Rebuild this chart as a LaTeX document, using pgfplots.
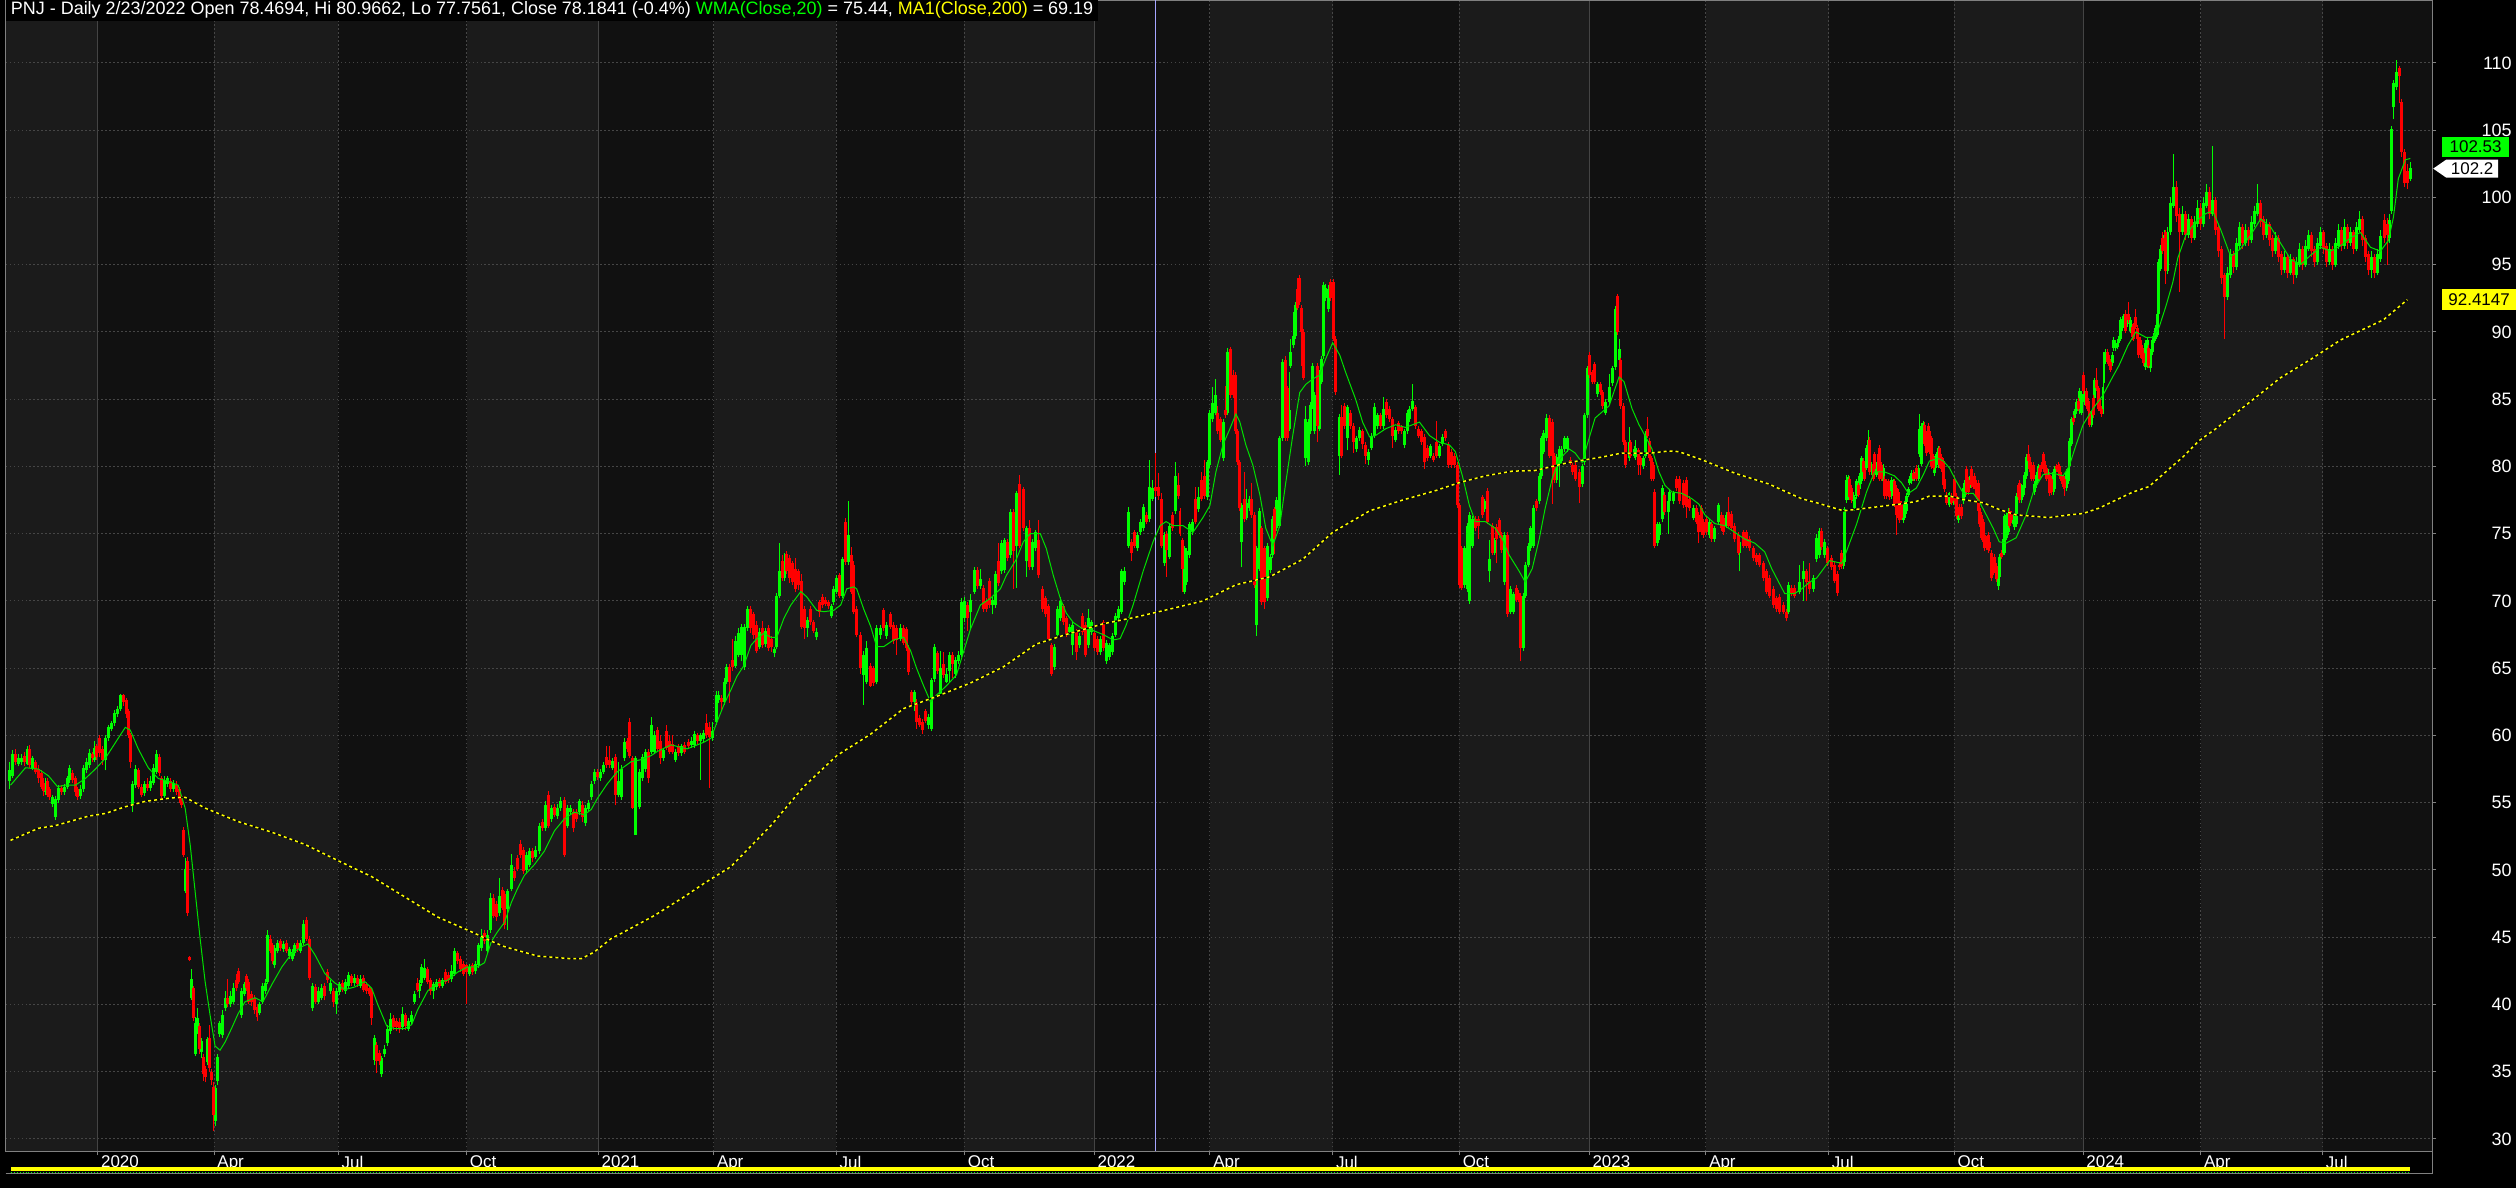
\documentclass[border=0pt]{standalone}
\usepackage{fontspec}
\setmainfont{Liberation Sans}
\usepackage{pgfplots}
\pgfplotsset{compat=1.18}
\usepackage{pgfplotstable}

\newlength\px
\setlength\px{0.5pt}

\definecolor{bgdark}{RGB}{17,17,17}
\definecolor{bglight}{RGB}{27,27,27}
\definecolor{gridgray}{RGB}{70,70,70}
\definecolor{yeargray}{RGB}{68,68,68}
\definecolor{framegray}{RGB}{128,128,128}
\definecolor{upgreen}{RGB}{0,255,0}
\definecolor{downred}{RGB}{255,0,0}
\definecolor{wmagreen}{RGB}{0,225,0}
\definecolor{mayellow}{RGB}{255,255,0}
\definecolor{cursorblue}{RGB}{165,165,255}

% daily candles, x = pixel column of the chart
\pgfplotstableread{
x o h l c
4 56.6 58.0 56.0 57.4
7 57.0 58.9 56.8 58.6
10 58.6 59.0 57.8 58.0
13 57.9 58.6 57.7 58.3
16 58.0 58.6 57.8 58.3
19 58.5 58.8 57.7 58.0
22 57.9 59.2 57.8 59.0
24 59.0 59.3 57.6 57.8
27 57.6 58.5 57.4 58.3
30 58.0 58.2 57.1 57.3
33 57.5 57.8 56.5 56.8
36 57.2 57.4 56.0 56.2
38 56.5 56.8 55.5 55.9
40 55.8 56.8 55.6 56.5
42 56.6 56.8 55.4 55.6
44 56.0 56.2 55.2 55.4
47 54.9 55.6 54.7 55.4
50 53.9 55.5 53.7 55.3
53 55.2 56.3 55.0 56.1
56 56.1 56.3 55.6 55.8
59 55.8 56.4 55.6 56.2
62 56.2 57.0 56.0 56.8
64 56.7 57.8 56.5 57.6
67 57.2 57.4 56.5 56.7
70 56.8 57.0 55.5 55.8
72 56.0 56.2 55.2 55.4
75 55.5 56.3 55.3 56.0
78 56.0 57.8 55.8 57.6
81 57.4 58.3 57.2 58.0
84 57.8 59.0 57.6 58.7
87 58.6 58.8 58.0 58.3
89 58.2 59.6 58.0 59.1
91 59.2 59.4 58.2 58.4
94 59.8 60.0 58.4 58.7
97 59.0 59.2 57.8 58.2
100 58.2 60.0 57.4 59.8
103 59.8 60.8 59.6 60.6
106 60.5 61.1 60.3 60.9
109 60.9 61.9 60.7 61.7
112 61.6 62.2 61.4 62.0
115 62.0 63.1 61.8 63.0
118 63.0 63.1 62.2 62.5
121 62.6 62.8 61.3 61.6
123 61.8 62.0 59.8 60.0
125 60.0 60.2 57.6 58.0
127 54.8 56.6 54.3 56.4
130 56.3 57.8 56.1 57.5
133 57.4 57.6 56.0 56.2
136 56.2 56.4 55.4 55.6
139 55.7 56.6 55.5 56.4
142 56.4 56.8 55.9 56.1
145 56.1 57.0 55.9 56.6
148 56.5 57.9 56.3 57.6
151 57.3 58.9 57.1 58.6
154 58.4 58.6 57.0 57.2
156 56.8 57.0 55.3 55.5
159 55.5 57.0 55.3 56.7
162 56.4 57.0 56.2 56.8
165 56.6 56.8 55.8 56.0
168 56.0 56.7 55.8 56.5
171 56.3 56.6 55.6 55.8
174 56.0 56.2 55.0 55.3
176 55.5 55.6 54.6 54.8
178 53.0 53.2 51.0 51.1
180 48.4 50.9 48.3 50.1
182 50.7 51.0 46.6 46.8
184 43.5 43.6 43.2 43.3
186 40.5 42.6 40.3 41.9
188 41.2 41.4 38.8 39.0
190 36.3 39.1 36.2 38.6
192 38.0 39.7 37.8 39.0
194 38.4 38.6 36.3 36.7
196 36.5 37.5 36.0 37.3
198 36.1 36.3 34.3 34.8
200 35.2 35.4 34.2 34.6
202 35.7 37.6 35.5 37.4
204 37.5 38.5 35.0 35.3
206 35.0 35.2 34.0 34.4
208 33.9 34.2 30.6 31.8
210 31.3 34.0 31.0 33.8
212 34.3 36.3 34.0 36.1
214 37.8 38.8 37.6 38.6
217 37.7 39.6 37.5 39.2
220 39.7 41.0 39.5 40.5
222 40.5 41.9 39.8 40.0
225 40.0 41.0 39.8 40.6
228 40.2 41.6 40.0 41.2
231 41.8 42.3 41.0 41.2
233 42.5 42.7 41.5 41.7
236 39.2 41.2 39.0 41.0
239 40.8 41.7 40.6 41.5
241 42.1 42.3 41.0 41.2
243 41.7 41.9 40.0 40.2
246 40.8 41.0 39.9 40.2
249 40.5 40.7 39.3 39.6
252 39.8 40.0 38.8 39.1
255 39.4 40.2 39.2 40.0
258 40.2 41.6 40.0 41.4
261 41.0 41.9 40.8 41.6
263 41.7 45.5 41.5 45.2
266 44.9 45.2 43.8 44.0
268 44.4 44.6 43.0 43.2
270 42.9 44.4 42.7 44.2
273 44.0 44.8 43.8 44.6
276 44.7 44.9 44.0 44.2
279 44.1 44.7 43.9 44.5
282 44.6 44.8 43.8 44.0
285 43.6 44.3 43.4 44.1
288 43.4 44.1 43.2 43.9
290 43.8 44.6 43.6 44.4
293 44.6 44.8 43.9 44.1
296 44.0 44.8 43.8 44.6
299 44.6 46.3 44.4 46.0
302 46.3 46.5 44.7 44.9
305 44.9 45.1 41.8 42.0
308 39.7 41.6 39.5 41.4
311 41.3 41.5 40.0 40.2
314 40.2 41.3 40.0 41.0
317 40.5 41.5 40.3 41.2
320 41.4 41.6 40.3 40.6
323 42.4 42.6 41.6 41.8
326 41.0 41.8 40.8 41.6
329 41.0 41.2 39.8 40.2
332 40.0 41.2 39.3 41.0
335 40.9 41.7 40.7 41.5
338 41.6 41.8 40.9 41.1
341 41.0 41.9 40.8 41.7
344 41.4 42.4 41.2 42.2
347 42.1 42.3 41.4 41.6
350 41.6 42.3 41.4 42.0
353 42.0 42.2 41.3 41.5
356 41.4 42.2 41.2 41.9
359 42.0 42.2 40.9 41.1
362 41.5 41.7 40.8 41.0
365 41.2 41.4 40.6 40.8
367 41.0 41.2 38.5 39.0
370 35.9 37.7 35.5 37.5
372 37.0 37.2 34.9 35.8
375 36.4 36.6 35.5 35.8
377 34.8 36.2 34.6 36.0
380 36.3 37.0 36.1 36.7
383 37.1 38.5 36.9 38.2
386 38.0 39.4 37.8 38.9
389 39.0 39.2 38.1 38.3
392 38.8 39.0 38.0 38.3
395 38.7 39.0 37.9 38.2
398 38.3 39.8 38.1 39.3
401 39.2 39.4 38.1 38.4
404 38.2 39.0 38.0 38.8
407 38.7 39.5 38.5 39.2
410 40.2 41.0 40.0 40.8
413 41.6 42.0 40.9 41.1
415 41.0 41.8 40.5 41.5
417 41.6 43.0 41.4 42.8
420 42.0 43.4 41.8 42.7
423 42.6 42.8 41.5 41.7
426 41.8 42.0 40.7 41.0
429 41.0 41.7 40.4 41.5
432 41.3 41.9 41.1 41.7
435 41.8 42.0 41.2 41.4
438 41.4 42.0 41.2 41.8
441 42.4 42.6 41.5 41.7
444 42.2 42.4 41.6 41.8
447 41.9 42.9 41.7 42.5
450 42.3 44.2 42.1 44.0
453 43.8 44.0 43.0 43.2
456 43.4 43.6 42.4 42.6
459 43.0 43.2 42.1 42.3
462 42.9 43.0 40.0 42.4
465 42.3 43.0 42.1 42.8
468 42.9 43.1 42.2 42.4
471 42.5 43.2 42.3 43.0
474 42.9 44.6 42.7 44.4
477 44.2 45.6 44.0 45.2
480 45.3 45.5 44.5 44.7
483 44.0 45.5 43.8 45.2
486 45.5 48.3 45.3 47.9
489 47.9 48.2 46.4 46.6
492 47.5 47.7 46.2 46.5
495 46.8 49.4 46.6 48.1
498 48.5 48.7 47.0 47.2
500 48.2 48.4 45.6 45.9
503 47.1 48.6 45.5 48.4
507 48.6 51.2 48.4 50.4
510 49.9 50.2 49.2 49.4
513 50.9 51.1 49.9 50.1
516 51.9 52.2 50.9 51.1
519 51.5 51.7 49.7 49.9
522 50.0 51.3 49.8 51.1
525 50.4 51.6 50.2 51.4
528 51.4 51.6 50.6 50.9
531 51.0 51.8 50.8 51.5
535 51.4 53.5 51.2 53.3
538 53.6 53.8 52.9 53.1
541 53.1 55.1 52.9 54.8
544 55.6 55.9 53.1 53.3
547 53.8 54.8 53.6 54.6
550 54.7 54.9 53.9 54.1
553 54.0 54.9 53.8 54.6
556 54.6 55.4 54.4 55.1
560 55.2 55.4 51.0 51.1
563 53.3 54.8 53.1 54.6
566 54.3 54.8 54.1 54.6
569 54.3 54.5 52.8 53.1
572 54.3 54.5 53.6 53.8
575 54.3 55.3 54.1 55.1
578 54.8 55.1 53.6 53.9
581 53.5 54.8 53.3 54.6
584 54.5 55.2 54.3 55.0
587 55.4 56.6 55.2 56.4
590 56.6 57.5 56.4 57.3
593 57.3 57.5 56.7 56.9
596 56.8 57.5 56.6 57.3
599 57.3 58.0 57.1 57.8
602 58.4 59.2 57.6 57.8
605 58.2 59.2 57.6 57.8
608 57.6 58.3 57.4 58.1
611 58.4 58.6 54.8 55.6
614 55.6 58.0 55.4 56.6
617 55.4 57.8 55.2 57.5
620 58.3 59.8 58.1 59.5
623 59.6 59.8 58.8 59.0
625 61.0 61.3 58.3 58.5
628 58.3 58.5 54.5 54.6
631 52.6 58.5 52.6 58.3
635 54.7 57.5 54.5 57.3
638 56.8 58.6 56.6 58.4
641 57.5 59.0 57.3 58.8
644 58.8 59.0 56.5 56.8
647 58.8 61.4 58.6 60.8
650 58.8 60.3 58.6 60.0
653 60.4 60.6 58.8 59.0
656 59.6 60.0 57.9 58.3
659 58.3 59.1 58.1 58.9
662 60.3 60.8 58.9 59.1
665 59.6 60.0 58.6 58.8
668 59.4 60.0 58.6 58.8
671 58.2 59.0 58.0 58.8
674 59.2 59.4 58.5 58.7
677 58.7 59.4 58.5 59.2
680 59.3 59.5 58.6 58.8
684 59.5 59.7 59.0 59.2
687 59.3 59.9 59.1 59.6
690 59.3 60.3 59.1 60.1
693 60.0 60.2 59.4 59.6
696 59.6 60.2 56.7 60.0
699 59.7 60.4 59.5 60.2
702 60.9 61.6 59.8 60.0
705 60.6 61.0 56.1 59.9
708 59.8 61.0 59.6 60.3
712 61.0 63.3 60.8 63.0
715 62.6 63.3 62.4 63.0
718 62.8 63.0 61.8 62.5
721 62.5 64.3 62.3 64.0
723 64.0 65.3 63.8 65.1
726 65.1 65.3 62.4 64.0
729 65.6 67.2 64.8 65.1
732 65.2 67.4 65.0 67.0
735 66.0 68.0 65.8 67.6
738 66.0 68.3 65.5 68.1
741 65.1 68.3 64.9 68.1
744 68.0 69.6 67.8 69.4
747 69.4 69.6 67.6 68.0
750 69.0 69.2 67.2 67.5
753 68.2 68.5 66.1 66.3
756 66.6 68.0 66.4 67.7
759 68.0 68.5 66.5 66.7
762 66.8 68.0 66.6 67.8
765 68.0 68.2 66.3 66.5
768 67.2 67.4 66.2 66.6
771 66.1 66.6 65.8 66.4
773 66.6 70.6 66.4 70.4
776 70.4 74.3 70.2 72.2
779 73.0 73.4 71.5 71.7
781 71.7 73.6 71.5 72.2
783 73.5 73.7 72.0 72.2
786 73.2 73.4 71.3 71.7
789 72.8 73.0 71.2 71.4
792 72.4 73.2 70.7 70.9
795 72.2 72.4 70.8 71.2
798 71.5 72.0 67.9 68.1
801 69.4 69.6 67.2 68.0
804 68.0 68.8 67.3 68.6
807 69.4 69.6 68.2 68.4
810 68.4 68.6 67.6 67.8
813 67.3 68.0 67.1 67.7
816 69.9 70.1 68.8 69.2
819 70.3 70.5 69.5 69.7
822 70.1 70.3 69.6 69.8
825 69.9 70.1 69.4 69.6
828 68.9 69.8 68.7 69.6
830 69.9 71.1 69.7 70.9
833 70.7 71.9 70.5 71.7
836 71.9 72.1 70.2 70.4
839 70.4 73.3 70.2 73.1
842 75.9 76.2 72.7 72.9
845 72.9 77.4 72.7 74.9
848 73.4 74.0 70.5 70.7
850 72.7 73.0 69.0 69.2
853 69.4 69.6 67.3 67.5
857 67.5 67.7 64.6 65.0
860 64.5 66.3 62.3 66.0
863 64.0 67.0 63.8 66.5
867 65.2 65.4 63.6 63.7
870 65.0 65.2 63.7 63.9
873 64.0 68.2 63.8 68.0
877 67.5 68.2 67.2 68.0
880 69.3 69.5 67.8 68.0
883 67.4 68.4 67.2 68.2
887 69.0 69.2 67.9 68.1
890 68.2 68.4 66.8 67.0
893 68.0 68.2 66.0 67.1
897 67.2 68.3 67.0 68.0
900 68.0 68.2 66.7 66.9
903 67.9 68.1 66.3 66.5
905 66.5 66.7 64.5 64.7
908 63.2 63.4 62.3 62.5
911 62.5 63.4 61.8 63.2
913 62.5 62.7 60.5 61.0
916 61.3 61.5 60.6 60.8
919 61.0 61.2 60.1 60.4
922 61.8 62.0 60.9 61.1
925 60.8 61.6 60.5 61.4
928 60.5 64.3 60.3 64.1
931 64.2 66.8 64.0 66.6
934 66.1 66.3 64.6 64.8
937 63.1 66.3 63.0 65.0
940 65.3 66.2 64.3 64.5
943 64.0 65.0 63.9 64.6
946 64.8 66.2 64.0 66.0
949 66.0 66.2 64.3 65.3
952 64.6 65.8 64.3 65.6
955 65.5 66.3 65.3 66.0
958 66.0 70.2 65.8 69.9
961 68.7 70.3 68.4 70.0
964 69.7 69.9 67.8 68.7
967 69.2 70.5 67.9 70.1
971 70.7 72.5 70.5 72.3
974 72.3 72.5 70.9 71.1
977 71.1 72.4 70.9 71.6
980 71.0 71.2 69.2 69.4
983 70.0 70.2 69.2 69.4
986 71.5 71.7 69.5 69.7
989 69.7 70.3 69.0 70.1
992 69.7 72.2 69.5 72.0
995 73.0 74.3 71.1 71.3
998 72.2 74.5 72.0 74.3
1001 72.3 74.7 72.1 74.5
1004 74.4 74.6 73.0 73.2
1007 73.4 76.8 73.2 76.6
1010 76.6 76.8 70.9 73.7
1013 74.1 78.2 71.0 78.0
1016 78.7 79.4 73.9 74.1
1020 78.3 78.5 75.2 75.4
1023 73.0 75.6 71.8 75.4
1026 75.4 76.0 72.3 72.5
1029 72.5 74.6 72.3 74.4
1032 73.9 75.3 73.7 75.1
1035 74.5 76.0 71.7 71.9
1039 70.9 71.1 69.2 69.4
1042 70.2 70.4 68.8 69.0
1045 69.6 69.8 67.0 67.2
1048 66.7 66.9 64.4 64.6
1051 65.1 66.8 64.9 66.6
1054 67.5 69.6 67.3 69.4
1057 68.7 70.3 68.5 70.0
1060 69.6 69.8 68.2 68.4
1063 68.7 68.9 67.3 67.5
1066 67.7 68.3 67.5 68.1
1069 66.7 68.4 66.0 68.2
1073 67.7 67.9 65.6 66.2
1076 66.7 67.6 66.5 67.4
1079 68.9 69.1 67.5 67.7
1082 68.2 68.4 65.8 66.0
1085 66.7 69.4 66.5 68.7
1088 67.7 68.6 67.5 68.4
1091 67.6 67.8 66.3 66.5
1094 67.2 67.4 66.0 66.2
1097 66.2 67.4 66.0 67.2
1100 68.4 68.6 66.3 66.5
1103 65.5 67.1 65.3 66.9
1106 65.8 66.9 65.6 66.7
1109 66.2 67.6 66.0 67.4
1112 67.5 69.1 67.3 68.9
1115 68.7 69.6 68.5 69.4
1118 69.2 72.4 69.0 72.2
1121 71.4 72.5 71.2 72.2
1125 74.1 77.0 73.9 76.6
1128 74.4 74.6 73.0 73.6
1131 75.1 75.3 73.9 74.1
1134 73.9 75.1 73.7 74.9
1137 75.1 76.1 74.9 75.9
1140 75.4 77.2 75.2 77.0
1143 76.4 76.6 75.7 75.9
1146 76.1 80.5 75.9 78.5
1149 77.6 79.0 77.4 78.4
1152 78.4694 80.9662 77.7561 78.1841
1155 78.5 79.5 77.5 77.8
1158 77.6 78.0 73.9 74.1
1161 72.8 75.1 72.6 74.9
1163 75.0 75.2 71.8 73.8
1166 73.3 75.8 73.1 75.6
1169 76.4 76.6 75.2 75.4
1172 76.7 80.3 76.5 79.3
1175 78.6 79.5 77.6 77.8
1177 76.7 76.9 74.8 75.0
1180 74.5 74.7 70.7 72.4
1182 70.7 74.1 70.5 73.9
1184 71.4 73.9 71.2 73.7
1187 73.4 75.9 73.2 75.7
1190 75.1 76.1 74.9 75.9
1193 77.6 78.5 75.7 75.9
1196 76.8 78.5 76.6 77.7
1199 79.0 79.6 77.4 77.6
1202 79.3 80.5 77.6 77.8
1205 77.7 80.5 77.5 80.3
1207 80.1 84.2 79.9 84.0
1210 83.5 85.9 83.3 84.7
1213 84.0 86.5 83.8 85.3
1215 84.0 84.5 82.4 82.6
1218 83.5 83.7 81.8 82.0
1221 80.6 83.5 80.4 83.3
1223 84.2 86.0 83.6 83.8
1225 84.0 88.8 83.8 88.5
1228 88.7 88.9 85.1 85.3
1231 86.8 87.2 85.1 85.3
1233 86.8 87.0 82.4 82.6
1235 82.6 82.8 80.1 80.3
1237 80.3 80.5 76.7 76.9
1239 74.4 77.3 72.5 77.1
1242 77.6 79.6 75.9 76.1
1244 76.2 78.3 76.0 77.3
1247 76.9 77.8 76.7 77.6
1249 77.6 78.8 76.2 76.4
1252 76.4 76.6 71.0 71.2
1254 68.2 74.1 67.4 73.9
1257 72.4 76.9 72.2 76.7
1259 75.4 75.6 69.7 69.9
1262 73.9 74.1 69.4 69.9
1265 70.2 74.3 70.0 74.1
1268 72.3 73.5 72.1 73.3
1270 73.4 76.3 73.2 76.1
1272 76.8 77.0 73.5 74.6
1274 75.4 77.7 75.2 77.5
1277 75.6 82.3 75.4 82.1
1280 82.1 88.0 81.9 87.8
1283 87.9 88.2 81.9 82.1
1285 85.8 86.0 81.9 82.1
1287 82.8 87.0 82.6 84.2
1288 87.5 89.5 87.3 88.5
1291 89.0 91.5 88.8 89.7
1293 89.7 92.2 89.5 92.0
1295 93.2 94.0 91.6 91.8
1297 94.0 94.2 92.0 92.2
1299 91.8 92.0 87.5 90.0
1301 90.0 90.2 86.4 86.6
1303 80.6 84.5 80.0 83.5
1306 80.3 83.5 80.1 83.3
1308 82.6 84.8 82.4 84.6
1310 84.5 87.7 84.3 87.5
1312 82.6 85.5 82.4 85.3
1315 87.5 87.7 81.8 83.0
1317 82.8 87.2 82.6 87.0
1319 86.3 88.2 86.1 88.0
1321 88.2 93.7 88.0 93.5
1323 92.5 93.6 92.3 93.3
1326 91.7 93.5 91.5 93.2
1328 93.7 93.9 92.3 92.5
1331 93.7 93.9 89.3 89.5
1333 89.5 89.7 85.3 85.5
1337 80.8 83.9 79.4 83.7
1339 83.7 84.6 80.6 80.8
1342 84.5 84.7 82.8 83.0
1345 82.1 84.6 81.2 84.4
1348 84.0 84.2 82.8 83.0
1351 83.0 83.2 81.0 81.8
1354 81.3 82.3 81.1 82.1
1357 82.1 82.9 81.9 82.7
1360 82.6 82.8 81.3 81.7
1363 81.6 81.8 80.2 80.8
1366 80.5 81.3 80.1 81.1
1369 81.4 82.5 81.2 82.3
1372 82.3 84.7 82.1 84.4
1375 83.0 84.0 82.8 83.8
1378 83.8 84.0 82.8 83.0
1381 83.0 85.2 82.8 84.3
1384 84.8 85.0 83.6 83.8
1387 84.3 84.5 83.3 83.5
1390 83.5 83.7 81.4 82.3
1393 82.0 82.9 81.8 82.7
1396 83.2 83.4 82.4 82.6
1399 82.9 83.1 82.4 82.6
1402 81.6 82.8 81.4 82.6
1405 82.6 84.2 82.4 84.0
1407 83.5 84.5 83.3 84.3
1410 84.3 86.1 84.1 84.9
1413 84.4 84.6 82.8 83.0
1416 82.8 83.0 82.1 82.3
1419 82.6 82.8 81.6 81.8
1422 82.2 82.4 79.8 80.3
1425 81.4 81.6 80.4 80.6
1428 80.8 81.7 80.6 81.5
1431 80.8 81.0 80.3 80.5
1434 81.8 83.4 80.6 80.8
1437 80.8 81.7 80.6 81.5
1440 81.7 82.4 81.5 82.2
1443 82.6 82.8 81.9 82.1
1446 81.6 81.8 79.9 80.1
1449 81.1 81.3 79.9 80.1
1452 80.8 81.0 79.9 80.1
1455 80.1 80.3 76.9 77.1
1457 77.1 77.3 71.0 71.2
1459 73.9 74.1 70.8 71.0
1462 71.2 74.1 71.0 73.9
1465 70.9 75.8 70.7 75.6
1467 70.0 76.6 69.8 76.4
1470 74.1 76.3 73.9 76.1
1473 76.1 76.3 75.2 75.4
1476 76.1 76.3 74.6 75.6
1480 77.7 77.9 76.2 76.4
1482 76.8 77.6 76.6 77.4
1485 78.2 78.4 75.7 75.9
1487 72.2 74.5 71.4 73.1
1490 75.6 75.8 73.4 73.6
1492 73.6 74.7 73.4 74.5
1494 75.5 75.7 72.8 74.6
1497 76.0 76.2 74.7 74.9
1499 74.9 75.1 73.6 73.8
1502 71.4 75.1 71.2 74.9
1505 74.9 75.1 68.8 69.0
1508 69.2 71.1 69.0 70.9
1511 69.2 70.7 69.0 70.5
1514 71.0 71.2 69.9 70.1
1516 70.6 70.8 69.9 70.1
1518 70.4 70.6 65.5 66.5
1521 66.5 70.6 66.3 70.4
1523 70.4 72.9 70.2 72.7
1526 72.7 74.3 72.5 74.1
1528 73.9 75.6 73.7 75.4
1531 74.1 77.1 73.9 76.9
1534 77.4 77.6 76.7 76.9
1537 77.4 79.5 77.2 79.3
1539 79.3 82.3 79.1 82.1
1541 81.1 82.7 80.9 82.5
1544 82.1 83.9 81.9 83.6
1547 83.6 83.8 80.6 80.8
1550 83.3 83.5 77.2 80.8
1552 80.8 81.0 78.8 79.0
1554 79.0 80.9 78.8 80.7
1557 80.1 81.5 78.5 81.3
1559 80.4 81.5 80.2 81.3
1562 81.3 82.3 81.1 82.1
1565 81.3 82.3 81.1 82.1
1568 80.5 80.7 80.1 80.3
1570 80.1 80.3 79.4 79.6
1573 80.1 80.3 78.9 79.1
1577 79.6 79.8 77.3 78.5
1580 78.7 80.2 78.5 80.0
1582 80.3 84.0 80.1 83.8
1585 83.8 87.5 83.6 87.3
1587 88.3 88.5 86.6 86.8
1590 87.0 87.2 86.1 86.3
1592 87.6 87.8 86.1 86.3
1595 85.4 86.3 85.2 86.1
1598 86.1 86.3 85.3 85.5
1600 85.5 85.7 84.3 84.5
1603 84.0 85.0 83.8 84.8
1607 84.8 86.9 84.6 85.9
1610 86.2 87.5 86.0 87.3
1613 87.4 91.9 87.2 91.7
1615 92.7 92.8 89.8 90.0
1617 87.9 89.5 87.7 88.7
1618 87.9 88.1 84.3 84.5
1621 84.5 84.7 81.6 81.8
1623 81.8 82.0 79.9 80.1
1627 80.6 82.9 80.4 81.8
1628 81.8 82.0 80.6 80.8
1632 80.8 81.5 80.6 81.3
1633 80.7 82.0 80.5 81.4
1636 81.2 81.4 79.4 80.1
1638 80.6 80.8 79.4 80.1
1642 80.0 80.8 79.8 80.6
1644 80.8 82.6 80.6 82.4
1646 82.8 83.7 82.1 82.3
1648 81.9 82.1 80.4 80.6
1650 80.6 80.8 78.9 79.1
1652 80.1 80.3 78.9 79.1
1653 78.1 78.3 73.9 74.1
1656 74.3 75.9 74.1 75.7
1658 74.9 75.9 74.5 75.7
1661 76.1 78.6 75.9 78.4
1663 77.9 78.1 76.4 76.6
1667 76.6 77.6 75.0 77.4
1668 77.4 78.3 77.2 78.1
1672 77.4 78.2 77.2 78.0
1675 79.1 79.3 78.2 78.4
1678 79.1 79.3 77.2 77.4
1682 78.8 79.0 76.9 77.1
1685 79.0 79.2 76.2 77.0
1688 77.6 77.8 76.7 76.9
1692 76.2 77.1 76.0 76.9
1695 76.9 77.1 75.7 75.9
1697 76.4 76.6 74.3 75.1
1700 76.9 77.1 74.9 75.1
1702 75.9 76.1 74.7 74.9
1705 76.1 76.3 74.9 75.1
1708 74.9 76.1 74.7 75.9
1710 75.7 75.9 74.4 74.6
1713 74.6 75.6 74.4 75.4
1717 75.9 77.3 75.7 77.1
1720 76.4 76.6 75.2 75.4
1722 76.2 76.4 74.9 75.1
1725 75.6 76.6 75.4 76.4
1727 76.6 77.7 75.4 75.6
1730 76.5 76.7 75.2 75.4
1733 75.6 75.8 74.4 74.6
1737 74.9 75.1 73.4 73.6
1738 73.6 74.6 72.2 74.4
1742 75.1 75.3 73.9 74.1
1745 75.1 75.3 73.9 74.1
1748 74.6 74.8 73.7 73.9
1752 73.9 74.1 73.0 73.2
1755 73.4 73.6 72.7 72.9
1758 73.4 73.6 72.5 72.7
1762 72.8 73.0 71.5 71.7
1765 72.2 72.4 70.5 70.7
1768 71.7 71.9 70.2 70.4
1772 70.9 71.1 69.5 69.7
1775 70.2 70.4 69.2 69.4
1778 70.3 70.5 69.0 69.2
1782 69.7 69.9 69.0 69.2
1785 69.2 69.4 68.5 68.7
1787 69.2 71.4 69.0 71.2
1790 71.0 71.2 70.4 70.6
1793 71.0 71.2 70.2 70.4
1798 70.7 72.7 70.5 71.4
1802 71.6 73.0 70.0 72.2
1805 72.2 72.4 70.0 71.4
1808 71.5 72.8 70.5 70.9
1812 70.9 71.9 70.7 71.7
1815 73.1 75.0 72.9 74.7
1818 73.4 75.4 73.2 75.2
1820 75.2 75.4 73.8 74.0
1823 73.4 74.6 73.2 74.4
1826 73.9 74.1 72.6 72.8
1830 73.2 73.4 72.3 72.5
1833 72.7 72.9 71.3 71.5
1836 72.0 72.2 70.4 70.6
1838 72.7 72.9 72.3 72.5
1840 73.6 73.8 72.4 72.6
1842 72.6 73.4 72.4 73.2
1843 72.9 77.0 72.7 76.8
1845 77.5 79.4 77.3 79.0
1847 77.7 79.4 77.5 79.2
1848 79.1 79.3 77.5 77.7
1850 78.4 78.6 77.3 77.5
1852 77.4 78.1 77.2 77.9
1853 76.9 77.9 76.7 77.7
1855 77.8 79.1 77.6 78.9
1857 78.6 78.8 77.7 77.9
1858 78.3 79.5 78.1 79.3
1860 78.9 80.8 78.7 80.6
1862 80.4 80.6 79.4 79.6
1863 79.9 80.1 78.9 79.1
1865 79.9 81.6 79.7 81.4
1867 80.3 82.7 80.1 82.0
1868 82.0 82.2 79.4 79.6
1870 79.6 80.3 79.4 80.1
1872 80.2 80.4 78.9 79.1
1873 80.9 81.1 79.6 79.8
1875 79.4 80.3 79.2 80.1
1877 80.9 81.1 79.4 79.6
1878 81.4 81.6 78.9 79.1
1880 80.1 80.3 78.9 79.1
1882 78.9 80.2 78.7 79.9
1883 79.1 79.3 77.6 77.8
1885 78.9 79.1 77.6 77.8
1887 78.9 79.1 77.7 77.9
1888 78.2 78.4 77.5 77.7
1890 77.8 79.2 77.6 79.0
1892 77.8 79.1 77.6 78.9
1893 78.9 79.1 77.0 77.2
1895 78.4 78.6 74.9 76.4
1897 78.1 78.3 76.0 76.2
1898 77.4 77.6 75.8 76.05
1900 77.2 77.4 76.0 76.2
1902 76.0 77.2 75.8 77.0
1903 76.2 77.4 76.0 77.2
1905 76.7 78.0 76.5 77.8
1907 77.9 78.5 77.7 78.3
1908 78.8 79.3 78.6 79.1
1910 78.9 79.7 78.7 79.5
1912 79.5 79.7 78.9 79.1
1913 79.1 79.6 78.9 79.4
1915 79.9 80.1 78.9 79.1
1917 79.1 80.1 78.9 79.9
1918 80.9 83.9 80.7 82.8
1920 80.2 83.2 80.0 83.0
1922 82.2 83.4 82.0 83.2
1923 83.1 83.3 81.5 81.7
1925 82.4 82.6 80.8 81.0
1927 83.0 83.2 81.8 82.0
1928 82.6 82.8 80.9 81.1
1930 82.1 82.3 79.8 80.0
1932 80.7 80.9 79.7 79.9
1933 79.5 80.8 79.3 80.6
1935 80.1 81.1 79.9 80.9
1937 80.1 81.5 79.9 81.4
1938 81.4 81.5 79.9 80.1
1940 80.7 80.9 79.6 79.8
1942 80.4 80.6 78.4 78.6
1943 79.1 79.3 78.1 78.3
1945 77.9 78.1 77.1 77.3
1947 77.3 78.0 77.1 77.8
1948 77.2 78.1 77.0 77.9
1950 77.8 78.0 77.1 77.3
1952 77.3 78.0 77.1 77.8
1953 79.1 79.3 77.2 77.4
1955 77.8 78.0 76.1 76.3
1957 76.0 76.6 75.8 76.4
1958 77.0 77.2 76.2 76.4
1960 77.0 77.2 76.1 76.3
1962 77.4 78.6 77.2 78.4
1963 77.7 79.0 77.5 78.8
1965 79.8 80.0 77.9 78.1
1967 79.0 79.2 77.9 78.1
1968 78.4 79.3 78.2 79.1
1970 79.8 80.0 78.4 78.6
1972 79.1 79.3 78.3 78.5
1973 79.3 79.5 78.3 78.5
1975 78.8 79.0 77.6 77.8
1977 78.8 79.0 76.5 76.7
1978 76.9 77.1 75.5 75.7
1980 76.4 76.6 74.5 74.7
1982 75.9 76.1 74.2 74.4
1983 74.9 75.1 73.7 73.9
1985 74.6 74.8 73.8 74.0
1987 74.9 75.1 73.6 73.8
1988 74.4 74.6 73.7 73.9
1990 73.6 73.8 71.5 71.7
1992 73.1 73.3 71.9 72.1
1993 73.3 73.5 72.4 72.6
1995 72.6 72.8 71.4 71.6
1997 71.1 71.9 70.8 71.7
1998 71.8 73.5 71.6 73.3
2000 73.6 73.8 73.1 73.3
2002 73.6 74.8 73.4 74.6
2003 73.6 76.5 73.4 76.3
2005 74.7 76.6 74.5 76.4
2007 75.1 76.9 74.9 76.7
2008 76.7 76.9 75.4 75.6
2010 76.5 76.7 75.8 76.0
2012 75.7 76.5 75.5 76.3
2013 75.5 76.1 75.3 75.9
2015 75.7 78.0 75.5 77.8
2017 78.6 78.8 77.5 77.7
2018 78.8 79.0 77.3 77.5
2020 77.5 78.7 77.3 78.5
2022 77.9 78.8 77.7 78.6
2023 78.4 79.6 78.2 79.4
2025 79.3 80.9 79.1 80.7
2027 80.9 81.6 80.2 80.4
2028 80.7 80.9 79.6 79.8
2030 80.1 80.3 78.9 79.1
2032 80.1 80.3 78.9 79.1
2033 78.1 78.9 77.9 78.7
2035 78.6 79.6 78.4 79.4
2037 79.1 80.2 78.9 80.0
2038 79.9 80.1 78.9 79.1
2040 80.1 80.3 79.6 79.8
2042 80.9 81.1 79.6 79.8
2043 80.4 80.6 79.4 79.6
2045 79.9 80.1 78.9 79.1
2047 79.1 79.8 78.9 79.6
2048 79.4 79.6 77.8 78.0
2050 79.1 79.3 77.9 78.1
2052 78.1 79.8 77.9 79.6
2053 78.3 80.0 78.1 79.8
2055 80.0 80.2 79.6 79.8
2057 80.1 80.3 79.4 79.6
2058 80.0 80.2 79.1 79.3
2060 79.4 79.6 78.7 78.9
2062 79.1 79.3 78.3 78.5
2063 79.1 79.3 77.8 78.4
2065 78.4 79.8 78.2 79.6
2067 78.9 80.1 78.7 79.9
2068 80.0 82.1 79.8 81.9
2070 81.7 83.7 81.5 83.5
2072 83.6 83.8 83.1 83.3
2073 83.6 84.3 83.4 84.1
2075 84.1 85.0 83.9 84.8
2077 84.9 85.1 84.1 84.3
2078 84.1 85.8 83.9 85.6
2080 84.0 85.6 83.8 85.4
2082 86.8 87.0 85.4 85.6
2083 84.8 85.8 84.6 85.6
2085 85.6 85.8 84.3 84.5
2087 84.9 85.1 83.9 84.1
2088 84.1 84.3 82.9 83.1
2090 83.1 84.1 82.9 83.9
2092 85.1 85.3 83.6 83.8
2093 85.1 86.6 84.9 86.4
2095 86.4 87.3 85.6 85.8
2097 85.8 86.0 84.1 84.3
2098 85.1 85.3 84.1 84.3
2100 84.3 84.5 83.7 83.9
2102 84.1 86.1 83.9 85.9
2103 86.2 88.5 86.0 88.3
2105 87.8 88.7 87.6 88.5
2107 88.5 88.7 87.6 87.8
2108 88.3 88.5 87.5 87.7
2110 87.8 88.0 87.0 87.2
2112 87.7 88.5 87.5 88.3
2113 88.8 89.6 88.6 89.4
2115 88.8 89.4 88.6 89.2
2117 88.9 89.4 88.7 89.2
2118 89.2 89.7 89.0 89.5
2120 89.5 91.1 89.3 90.9
2122 90.3 91.2 90.1 91.0
2123 90.9 91.3 90.7 91.1
2125 91.3 91.6 89.9 90.1
2127 90.6 91.3 90.4 91.1
2128 91.3 92.2 90.7 90.9
2130 90.1 91.1 89.9 90.9
2132 90.4 90.6 89.4 89.6
2133 90.5 90.7 89.3 89.5
2135 91.1 91.7 90.2 90.4
2137 90.3 90.5 89.3 89.5
2138 89.6 89.8 88.1 88.3
2140 89.4 89.6 88.1 88.3
2142 88.8 89.0 87.8 88.0
2143 88.4 88.6 87.5 87.7
2145 87.4 89.4 87.2 89.2
2147 87.5 89.6 87.3 89.4
2148 88.8 89.0 87.3 87.5
2150 87.3 88.7 87.05 88.5
2152 88.5 89.6 88.3 89.4
2153 89.2 89.9 89.0 89.7
2155 89.5 90.5 89.3 90.3
2157 89.8 91.5 89.6 91.3
2158 91.3 95.4 91.1 95.2
2160 94.7 96.5 94.5 96.2
2162 97.0 97.4 95.8 96.0
2164 96.0 97.6 95.8 97.2
2165 97.4 97.6 93.6 94.5
2167 94.5 97.8 94.3 97.4
2170 97.4 100.0 97.2 99.6
2173 99.4 103.2 99.2 100.8
2176 100.8 101.2 98.2 98.6
2179 98.8 99.2 93.0 97.4
2182 97.4 99.4 97.2 98.8
2185 98.8 99.0 96.8 97.2
2188 97.2 98.8 97.0 98.4
2191 98.4 98.6 96.6 97.0
2194 97.0 98.6 96.8 98.2
2197 98.0 99.8 97.8 99.2
2200 99.2 99.6 97.6 98.0
2203 98.0 100.0 97.8 99.6
2206 99.4 101.0 99.2 100.4
2209 100.4 100.8 98.4 98.8
2212 98.8 103.8 98.6 99.8
2215 99.8 100.0 97.2 97.6
2218 97.8 98.0 95.6 96.0
2221 96.2 96.4 93.6 94.0
2224 94.2 94.4 89.5 92.6
2227 92.6 94.8 92.4 94.4
2230 94.2 96.2 94.0 95.8
2233 95.8 96.0 94.4 94.8
2236 94.8 97.0 94.6 96.6
2239 96.4 98.2 96.2 97.8
2242 97.8 98.0 96.2 96.6
2245 96.6 98.0 96.4 97.6
2248 97.6 97.8 96.4 96.8
2251 96.8 98.6 96.6 98.2
2254 98.0 99.4 97.8 99.0
2257 98.8 101.0 98.6 99.6
2260 99.6 99.8 97.8 98.2
2263 98.4 98.6 96.8 97.2
2266 97.2 98.4 97.0 98.0
2269 98.0 98.2 96.4 96.8
2272 97.0 97.2 95.6 96.0
2275 96.0 97.4 95.8 97.0
2278 97.0 97.2 95.2 95.6
2281 95.8 96.0 94.2 94.6
2284 94.6 96.0 94.4 95.6
2287 95.6 95.8 94.0 94.4
2290 94.4 95.8 94.2 95.4
2293 95.4 95.6 93.6 94.2
2296 94.2 95.6 94.0 95.2
2299 95.0 96.6 94.8 96.2
2302 96.2 96.4 94.6 95.0
2305 95.0 96.8 94.8 96.4
2308 96.2 97.6 96.0 97.2
2311 97.2 97.4 95.6 96.0
2314 96.2 96.4 94.8 95.2
2317 95.2 97.0 95.0 96.6
2320 96.4 97.8 96.2 97.4
2323 97.4 97.6 95.8 96.2
2326 96.4 96.6 94.8 95.2
2329 95.2 96.6 95.0 96.2
2332 96.2 96.4 94.6 95.0
2335 95.0 97.0 94.8 96.6
2338 96.4 98.0 96.2 97.6
2341 97.6 97.8 96.0 96.4
2344 96.4 98.4 96.2 97.8
2347 97.8 98.0 96.2 96.6
2350 96.6 97.8 96.4 97.4
2353 97.4 97.6 95.8 96.2
2356 96.2 98.2 96.0 97.8
2359 97.6 99.0 97.4 98.4
2362 98.4 98.6 96.4 96.8
2365 97.0 97.2 95.2 95.6
2368 95.8 96.0 94.2 94.6
2371 94.6 96.0 94.0 95.6
2374 95.6 95.8 94.0 94.4
2377 94.4 96.2 94.2 95.8
2380 95.4 97.6 95.2 97.1
2384 98.3 98.8 96.6 97.0
2387 98.0 98.5 95.0 97.2
2389 97.0 98.8 96.6 98.3
2391 99.0 105.3 98.8 105.1
2393 106.7 108.7 105.8 108.5
2396 108.2 110.2 108.0 109.3
2399 109.6 109.8 107.0 109.0
2401 107.1 107.3 103.0 103.4
2404 103.4 103.6 100.8 101.1
2407 102.0 102.5 100.6 101.1
2410 101.4 102.6 101.2 102.2
}\candles

% WMA(Close,20)
\pgfplotstableread{
x y
5 56.3
20 57.6
33 57.5
43 57.0
52 56.2
60 56.3
70 56.3
80 56.8
90 57.5
100 58.3
113 59.8
120 60.6
125 60.4
133 59.0
143 57.6
153 56.8
163 56.6
173 56.3
180 54.6
185 51.9
190 48.4
195 44.9
200 41.7
205 39.2
210 36.9
215 36.6
220 37.2
227 38.3
233 39.3
240 40.2
250 40.5
258 40.2
267 41.5
277 42.8
287 43.8
297 44.3
303 44.5
310 43.7
320 42.3
330 41.6
340 41.1
350 41.3
360 41.7
367 41.2
373 40.0
382 38.4
390 38.2
400 38.2
407 38.5
413 39.6
423 41.0
433 41.6
443 41.8
453 42.4
463 42.8
473 42.8
480 43.1
487 44.7
493 45.4
500 46.1
507 47.6
513 48.6
520 49.6
530 50.4
540 51.4
550 52.9
560 53.8
570 54.3
580 54.1
587 54.5
593 55.3
603 56.4
613 57.3
627 58.05
637 58.2
647 58.5
653 58.8
667 59.3
683 59.0
700 59.5
707 59.8
713 61.0
720 62.3
727 63.4
733 64.4
740 65.2
747 66.7
753 67.2
760 67.6
767 67.3
773 67.3
780 68.7
787 69.7
797 70.7
803 70.3
813 69.3
820 69.2
830 69.3
837 69.7
843 70.9
850 71.05
853 70.9
860 69.4
867 68.1
873 66.6
880 66.6
890 67.1
900 67.3
907 66.3
913 65.0
920 63.7
927 62.5
933 63.0
943 63.7
953 64.5
960 66.2
967 67.9
977 69.7
987 70.2
997 70.9
1003 71.9
1013 73.1
1020 74.4
1027 75.0
1037 75.0
1043 73.9
1050 71.9
1057 70.2
1063 69.1
1070 68.4
1080 67.9
1090 67.8
1100 67.5
1110 67.1
1117 67.2
1123 68.2
1130 69.7
1140 72.2
1150 74.4
1157 75.6
1163 75.9
1170 75.6
1180 75.6
1190 75.1
1200 76.2
1207 77.1
1213 79.6
1220 81.6
1227 82.8
1233 83.9
1237 83.3
1243 81.6
1250 80.1
1257 77.9
1263 75.4
1270 74.1
1277 75.6
1283 78.8
1290 82.3
1297 85.5
1303 86.1
1310 86.5
1317 86.8
1323 88.0
1330 89.2
1337 88.3
1343 87.0
1353 85.0
1360 83.3
1367 82.2
1373 82.3
1383 82.8
1393 83.1
1403 82.9
1417 83.3
1427 82.3
1437 81.8
1447 81.6
1453 81.1
1460 79.3
1467 77.1
1473 75.9
1483 75.9
1493 75.4
1500 74.6
1507 73.4
1517 72.2
1523 71.4
1530 72.4
1537 74.6
1543 76.9
1550 79.1
1557 80.5
1567 81.3
1573 81.0
1580 80.3
1587 82.1
1593 83.6
1600 84.05
1607 84.5
1617 86.65
1622 86.3
1630 84.3
1637 83.1
1643 82.3
1650 81.3
1657 79.6
1663 78.6
1670 78.1
1680 78.0
1690 77.6
1697 77.2
1703 76.4
1713 75.75
1723 75.6
1733 75.1
1743 74.6
1753 74.3
1763 73.65
1770 72.4
1777 71.4
1783 70.55
1793 70.55
1800 70.9
1808 71.4
1815 71.7
1828 73.0
1840 72.8
1845 73.7
1855 75.7
1865 78.1
1873 79.6
1883 79.6
1893 79.3
1900 78.8
1907 78.0
1915 78.4
1922 79.4
1928 80.4
1937 80.6
1942 80.4
1948 79.9
1955 78.9
1962 78.0
1972 78.0
1978 77.4
1985 76.4
1992 75.4
1998 74.4
2005 74.3
2015 74.7
2025 76.4
2033 78.3
2042 79.4
2052 79.5
2062 79.3
2068 80.0
2075 81.6
2082 83.1
2092 84.3
2102 85.3
2112 86.7
2118 87.5
2127 89.0
2135 90.0
2145 89.6
2152 89.6
2158 90.3
2165 91.9
2172 93.7
2177 95.5
2185 97.2
2195 98.2
2205 98.8
2212 99.0
2220 97.6
2230 95.6
2240 96.2
2250 97.2
2260 98.4
2270 97.8
2280 96.6
2290 95.4
2300 95.0
2310 95.7
2320 96.3
2330 96.0
2340 96.4
2350 97.0
2360 97.4
2370 96.3
2380 96.0
2388 96.8
2393 98.5
2398 101.4
2405 102.8
2410 102.9
}\wma

% MA1(Close,200)
\pgfplotstableread{
x y
5 52.2
33 53.1
50 53.3
83 54.0
100 54.2
120 54.7
140 55.1
160 55.3
173 55.4
180 55.4
200 54.6
233 53.6
267 52.8
300 51.9
333 50.7
367 49.5
400 48.0
433 46.5
467 45.4
487 44.7
500 44.3
533 43.6
567 43.4
577 43.4
590 43.9
607 44.9
620 45.4
650 46.6
680 48.0
700 49.0
727 50.25
767 53.3
800 56.2
833 58.5
867 60.1
900 62.0
933 62.9
967 63.9
1000 65.1
1033 66.8
1050 67.2
1067 67.6
1100 68.3
1133 68.8
1167 69.4
1200 70.0
1233 71.2
1267 71.8
1300 73.1
1330 75.1
1367 76.7
1400 77.5
1433 78.2
1457 78.8
1483 79.3
1510 79.65
1533 79.7
1567 80.3
1600 80.7
1620 81.0
1650 81.0
1667 81.15
1677 81.1
1700 80.5
1733 79.5
1767 78.7
1800 77.6
1815 77.3
1842 76.7
1865 76.9
1898 77.2
1915 77.4
1928 77.8
1948 77.8
1965 77.5
1982 77.3
1998 76.8
2015 76.4
2032 76.3
2048 76.2
2068 76.4
2082 76.5
2098 76.9
2115 77.5
2132 78.1
2148 78.5
2165 79.6
2182 80.7
2198 81.9
2215 82.8
2246 84.6
2280 86.6
2311 88.0
2340 89.4
2383 90.9
2407 92.4
}\mavg

\begin{document}
\pagecolor{black}
\begin{tikzpicture}
\begin{axis}[
  at={(0,37\px)}, anchor=south west,
  scale only axis, width=2432\px, height=1154\px,
  xmin=0, xmax=2432, ymin=29.07, ymax=114.68,
  clip=false, set layers,
  axis line style={draw=framegray, line width=1\px},
  tick align=outside, major tick length=4\px,
  tick style={draw=framegray, line width=1\px},
  xtick pos=left, ytick pos=right, yticklabel pos=right,
  ytick={30,35,...,110},
  yticklabels={30,35,40,45,50,55,60,65,70,75,80,85,90,95,100,105,110},
  xtick={209,333.5,462,709.6,832.5,961,1207,1330,1457,1704,1827,1953,2200,2322},
  xticklabels={Apr,Jul,Oct,Apr,Jul,Oct,Apr,Jul,Oct,Apr,Jul,Oct,Apr,Jul},
  extra x ticks={92.4,594,1091,1587,2082},
  extra x tick labels={2020,2021,2022,2023,2024},
  extra x tick style={grid=major, major grid style={draw=yeargray, solid, line width=1\px}},
  xmajorgrids, ymajorgrids,
  major grid style={draw=gridgray, line width=1\px, dash pattern=on 1.5\px off 2.5\px},
  tick label style={text=white},
  yticklabel style={font=\fontsize{9}{10}\selectfont, anchor=east, inner sep=0pt, xshift=76\px},
  xticklabel style={font=\fontsize{8.5}{10}\selectfont, anchor=north west, inner sep=0pt, xshift=3\px},
]
\begin{pgfonlayer}{axis background}
\fill[bgdark] (axis cs:0,29.07) rectangle (axis cs:2432,114.68);
\fill[bglight] (axis cs:0,29.07) rectangle (axis cs:92.4,114.68);
\fill[bglight] (axis cs:209,29.07) rectangle (axis cs:333.5,114.68);
\fill[bglight] (axis cs:462,29.07) rectangle (axis cs:594,114.68);
\fill[bglight] (axis cs:709.6,29.07) rectangle (axis cs:832.5,114.68);
\fill[bglight] (axis cs:961,29.07) rectangle (axis cs:1091,114.68);
\fill[bglight] (axis cs:1207,29.07) rectangle (axis cs:1330,114.68);
\fill[bglight] (axis cs:1457,29.07) rectangle (axis cs:1587,114.68);
\fill[bglight] (axis cs:1704,29.07) rectangle (axis cs:1827,114.68);
\fill[bglight] (axis cs:1953,29.07) rectangle (axis cs:2082,114.68);
\fill[bglight] (axis cs:2200,29.07) rectangle (axis cs:2322,114.68);
\end{pgfonlayer}

% cursor on 2/23/2022
\addplot[cursorblue, line width=1\px, forget plot] coordinates {(1152,29.07) (1152,114.68)};

% up candles: wick from low to high, body from open to close
\addplot[upgreen, line width=1\px, mark=none, forget plot,
  restrict expr to domain={\thisrow{c}-\thisrow{o}}{0:100},
  quiver={u=0, v={\thisrow{h}-\thisrow{l}}}]
  table[x=x, y=l] {\candles};
\addplot[upgreen, line width=3\px, mark=none, forget plot,
  restrict expr to domain={\thisrow{c}-\thisrow{o}}{0:100},
  quiver={u=0, v={max(\thisrow{c}-\thisrow{o},0.12)}}]
  table[x=x, y=o] {\candles};
% down candles
\addplot[downred, line width=1\px, mark=none, forget plot,
  restrict expr to domain={\thisrow{o}-\thisrow{c}}{0.0001:100},
  quiver={u=0, v={\thisrow{h}-\thisrow{l}}}]
  table[x=x, y=l] {\candles};
\addplot[downred, line width=3\px, mark=none, forget plot,
  restrict expr to domain={\thisrow{o}-\thisrow{c}}{0.0001:100},
  quiver={u=0, v={max(\thisrow{o}-\thisrow{c},0.12)}}]
  table[x=x, y=c] {\candles};

% moving averages
\addplot[wmagreen, line width=1\px, mark=none] table[x=x, y=y] {\wma};
\addplot[black, line width=1.5\px, mark=none] table[x=x, y=y] {\mavg};
\addplot[mayellow, line width=1.5\px, mark=none, dash pattern=on 3\px off 3\px] table[x=x, y=y] {\mavg};
\end{axis}

% title line
\node[anchor=base west, fill=black, inner xsep=5\px, inner ysep=0pt,
      text height=15\px, text depth=6\px, font=\fontsize{9}{10}\selectfont, text=white]
  at (0,1176\px)
  {PNJ - Daily 2/23/2022 Open 78.4694, Hi 80.9662, Lo 77.7561, Close 78.1841 (-0.4\%) \textcolor{upgreen}{WMA(Close,20)} = 75.44, \textcolor{mayellow}{MA1(Close,200)} = 69.19};

% price tags on the right
\fill[upgreen] (2442\px,1034\px) rectangle (2509\px,1054\px);
\node[font=\fontsize{8.5}{10}\selectfont, text=black, inner sep=0pt] at (2475.5\px,1044\px) {102.53};
\fill[white] (2433\px,1022\px) -- (2446\px,1031\px) -- (2498\px,1031\px) -- (2498\px,1013\px) -- (2446\px,1013\px) -- cycle;
\node[font=\fontsize{8.5}{10}\selectfont, text=black, inner sep=0pt] at (2472\px,1022\px) {102.2};
\fill[mayellow] (2442\px,880\px) rectangle (2516\px,901\px);
\node[font=\fontsize{8.5}{10}\selectfont, text=black, inner sep=0pt] at (2479\px,890.5\px) {92.4147};

% bottom strip
\fill[mayellow] (5\px,17\px) rectangle (2410\px,21.5\px);
\draw[upgreen, line width=1\px, dash pattern=on 1\px off 2\px] (5\px,16\px) -- (2410\px,16\px);
\draw[framegray, line width=1\px] (0,15\px) -- (2432\px,15\px) -- (2432\px,37\px);

\pgfresetboundingbox
\path[use as bounding box] (0,0) rectangle (2516\px,1191\px);
\end{tikzpicture}
\end{document}
